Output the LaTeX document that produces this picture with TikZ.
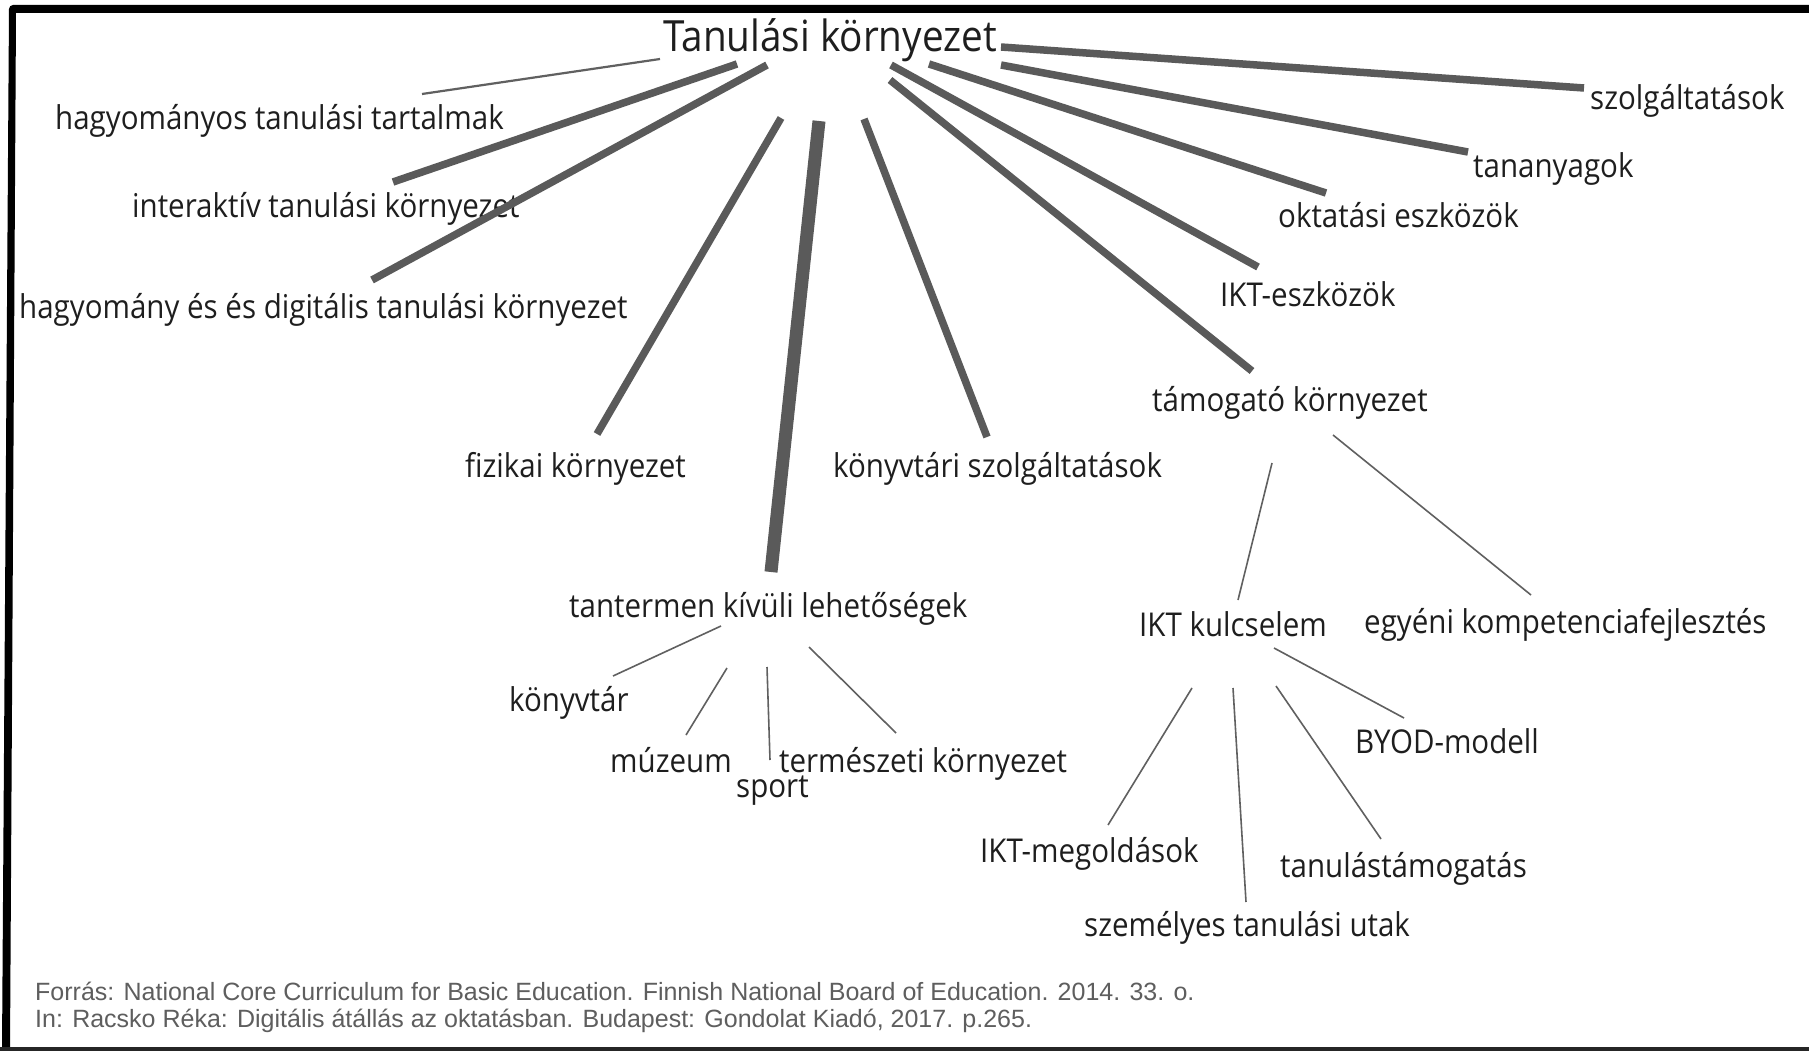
\documentclass[tikz,border=0pt]{standalone}
\usepackage{fontspec}
\setmainfont{Open Sans}[FakeStretch=0.9]
\newfontfamily\footfont{Liberation Sans}
\definecolor{linegray}{HTML}{5A5A5A}
\definecolor{thingray}{HTML}{606060}
\definecolor{txt}{HTML}{1E1E1E}
\definecolor{foot}{HTML}{5E5E5E}
\begin{document}
\begin{tikzpicture}[x=1pt,y=-1pt,
  lbl/.style={font=\fontsize{32.8}{36}\selectfont, text=txt, inner sep=0pt, anchor=base west},
  ttl/.style={font=\fontsize{43}{48}\selectfont, text=txt, inner sep=0pt, anchor=base west},
  ftn/.style={font=\footfont\fontsize{25}{28}\selectfont, text=foot, inner sep=0pt, anchor=base west},
  thk/.style={draw=linegray, line width=7.5pt},
  thkk/.style={draw=linegray, line width=13pt},
  thn/.style={draw=thingray, line width=1.6pt},
  thn2/.style={draw=thingray, line width=2.2pt}]
\useasboundingbox (0,0) rectangle (1809,1051);
\fill[white] (0,0) rectangle (1809,1051);
% frame
\fill[black] (1809,5) -- (13,5) to[out=180,in=90] (9,9) -- (2,1051) -- (10,1051) -- (16,13) -- (1809,13) -- cycle;
\fill[black!85] (0,1047) rectangle (1809,1051);

% nodes
\node[ttl] (root) at (663,52) {Tanulási környezet};
\node[lbl] (hagy) at (55,130) {hagyományos tanulási tartalmak};
\node[lbl] (inter) at (132,218) {interaktív tanulási környezet};
\node[lbl] (hagyes) at (19,318) {hagyomány és és digitális tanulási környezet};
\node[lbl] (fiz) at (465,477) {fizikai környezet};
\node[lbl] (kszolg) at (833,477) {könyvtári szolgáltatások};
\node[lbl] (tant) at (569,617) {tantermen kívüli lehetőségek};
\node[lbl] (konyv) at (509,711) {könyvtár};
\node[lbl] (muz) at (610,772) {múzeum};
\node[lbl] (sport) at (736,797) {sport};
\node[lbl] (term) at (779,772) {természeti környezet};
\node[lbl] (szolg) at (1590,110) {szolgáltatások};
\node[lbl] (tanany) at (1473,178) {tananyagok};
\node[lbl] (okt) at (1278,227) {oktatási eszközök};
\node[lbl] (iktesz) at (1220,306) {IKT-eszközök};
\node[lbl] (tam) at (1152,411) {támogató környezet};
\node[lbl] (iktk) at (1139,636) {IKT kulcselem};
\node[lbl] (egy) at (1364,633) {egyéni kompetenciafejlesztés};
\node[lbl] (byod) at (1355,753) {BYOD-modell};
\node[lbl] (iktm) at (980,862) {IKT-megoldások};
\node[lbl] (tanul) at (1280,877) {tanulástámogatás};
\node[lbl] (szem) at (1084,936) {személyes tanulási utak};
\node[ftn] (f1) at (35,1000) {Forrás: National Core Curriculum for Basic Education. Finnish National Board of Education. 2014. 33. o.};
\node[ftn] (f2) at (35,1027) {In: Racsko Réka: Digitális átállás az oktatásban. Budapest: Gondolat Kiadó, 2017. p.265.};

% connector end points
\coordinate (r-hagy) at (660,59);   \coordinate (e-hagy) at (422,94);
\coordinate (r-inter) at (737,64);  \coordinate (e-inter) at (393,182);
\coordinate (r-hagyes) at (767,65); \coordinate (e-hagyes) at (372,280);
\coordinate (r-fiz) at (781,118);   \coordinate (e-fiz) at (597,434);
\coordinate (r-tant) at (819,121);  \coordinate (e-tant) at (771,572);
\coordinate (r-kszolg) at (864,119);\coordinate (e-kszolg) at (987,437);
\coordinate (r-tam) at (890,80);    \coordinate (e-tam) at (1252,371);
\coordinate (r-iktesz) at (891,65); \coordinate (e-iktesz) at (1258,267);
\coordinate (r-okt) at (929,64);    \coordinate (e-okt) at (1326,193);
\coordinate (r-tanany) at (1001,65);\coordinate (e-tanany) at (1468,152);
\coordinate (r-szolg) at (1001,47); \coordinate (e-szolg) at (1584,88);

\coordinate (t-konyv) at (721,626); \coordinate (e-konyv) at (613,676);
\coordinate (t-muz) at (727,668);   \coordinate (e-muz) at (686,735);
\coordinate (t-sport) at (767,667); \coordinate (e-sport) at (770,760);
\coordinate (t-term) at (809,647);  \coordinate (e-term) at (896,733);

\coordinate (m-iktk) at (1272,463); \coordinate (e-iktk) at (1238,600);
\coordinate (m-egy) at (1333,435);  \coordinate (e-egy) at (1531,595);

\coordinate (k-byod) at (1274,648); \coordinate (e-byod) at (1404,718);
\coordinate (k-iktm) at (1192,688); \coordinate (e-iktm) at (1108,825);
\coordinate (k-szem) at (1233,688); \coordinate (e-szem) at (1246,902);
\coordinate (k-tanul) at (1276,686);\coordinate (e-tanul) at (1381,839);

% connectors
\draw[thn2] (r-hagy) -- (e-hagy);
\draw[thk] (r-inter) -- (e-inter);
\draw[thk] (r-hagyes) -- (e-hagyes);
\draw[thk] (r-fiz) -- (e-fiz);
\draw[thkk] (r-tant) -- (e-tant);
\draw[thk] (r-kszolg) -- (e-kszolg);
\draw[thk] (r-tam) -- (e-tam);
\draw[thk] (r-iktesz) -- (e-iktesz);
\draw[thk] (r-okt) -- (e-okt);
\draw[thk] (r-tanany) -- (e-tanany);
\draw[thk] (r-szolg) -- (e-szolg);

\draw[thn] (t-konyv) -- (e-konyv);
\draw[thn] (t-muz) -- (e-muz);
\draw[thn] (t-sport) -- (e-sport);
\draw[thn] (t-term) -- (e-term);
\draw[thn] (m-iktk) -- (e-iktk);
\draw[thn] (m-egy) -- (e-egy);
\draw[thn] (k-byod) -- (e-byod);
\draw[thn] (k-iktm) -- (e-iktm);
\draw[thn] (k-szem) -- (e-szem);
\draw[thn] (k-tanul) -- (e-tanul);
\end{tikzpicture}
\end{document}
